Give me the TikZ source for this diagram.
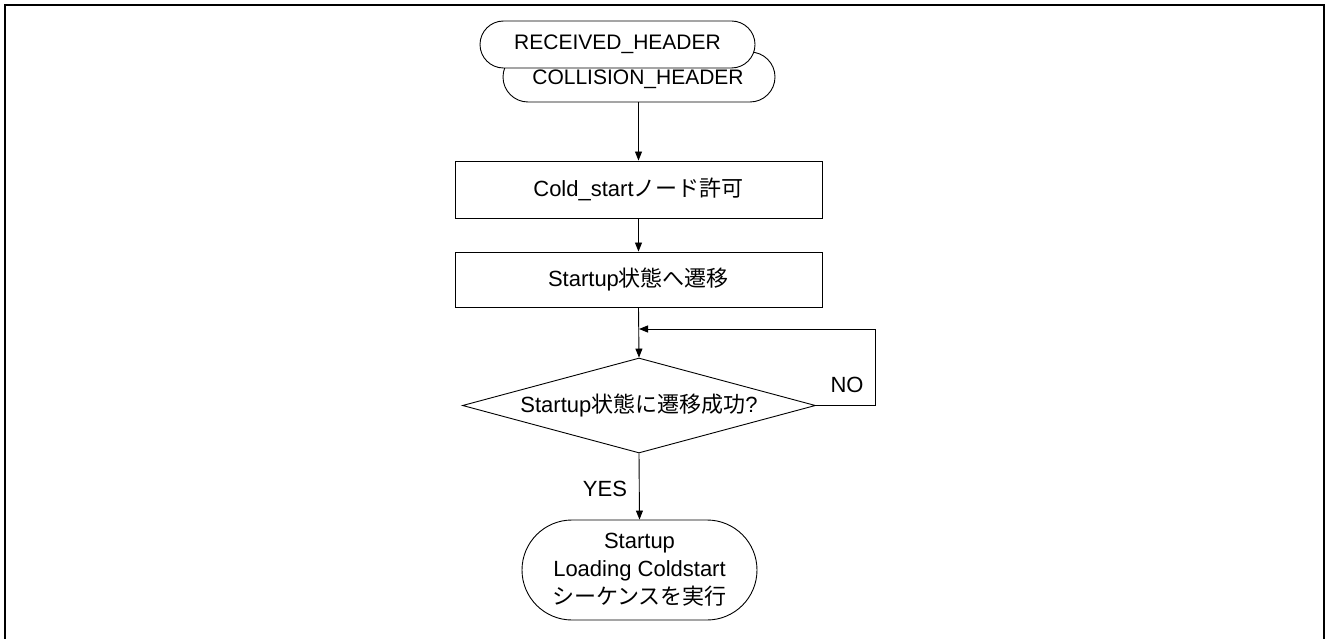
\documentclass[tikz,border=0pt]{standalone}
\usepackage{fontspec}
\setmainfont{Liberation Sans}
\newfontfamily\jp{Noto Sans CJK JP}
\usetikzlibrary{arrows.meta,shapes.geometric}
\begin{document}
\begin{tikzpicture}[x=1pt,y=-1pt,
  every node/.style={font=\fontsize{22}{28}\selectfont},
  ln/.style={line width=0.9pt},
  arr/.style={ln,-{Triangle[length=9pt,width=7pt]}},
  termbox/.style={draw,ln,fill=white,inner sep=0pt,align=center},
  procbox/.style={draw,ln,fill=white,inner sep=0pt,minimum width=367pt},
  decbox/.style={draw,ln,diamond,aspect=3.72,inner sep=0pt,minimum width=353pt,minimum height=95pt},
  lbl/.style={inner sep=0pt}
]
\useasboundingbox (0,0) rectangle (1328,639);
\draw[line width=2pt] (5,645) -- (5,5) -- (1324,5) -- (1324,645);

\node[termbox,minimum width=272pt,minimum height=50pt,rounded corners=25pt] (t2) at (639,77) {};
\node[lbl,font=\fontsize{21}{26}\selectfont] (t2txt) at (638,79) {COLLISION\_HEADER};
\node[termbox,minimum width=275pt,minimum height=47pt,rounded corners=23.5pt,font=\fontsize{21}{26}\selectfont] (t1) at (617.5,44.5) {RECEIVED\_HEADER};

\node[procbox,minimum height=57pt] (b1) at (638.5,189.5) {Cold\_start{\jp ノード許可}};
\node[procbox,minimum height=55pt] (b2) at (638.5,279.5) {Startup{\jp 状態へ遷移}};
\node[decbox] (d) at (639,405.5) {Startup{\jp 状態に遷移成功}?};
\node[termbox,minimum width=235pt,minimum height=100pt,rounded corners=50pt] (t3) at (639.5,570) {Startup\\Loading Coldstart\\{\jp シーケンスを実行}};

\coordinate (lp) at (639,329);
\draw[arr] (t2.south -| b1.north) -- (b1.north);
\draw[arr] (b1.south) -- (b2.north);
\draw[arr] (b2.south) -- (d.north);
\draw[arr] (d.east) -- ++(59,0) |- (lp);
\draw[arr] (d.south) -- (t3.north);

\node[lbl] (no) at (847,385) {NO};
\node[lbl] (yes) at (605,489) {YES};
\end{tikzpicture}
\end{document}
